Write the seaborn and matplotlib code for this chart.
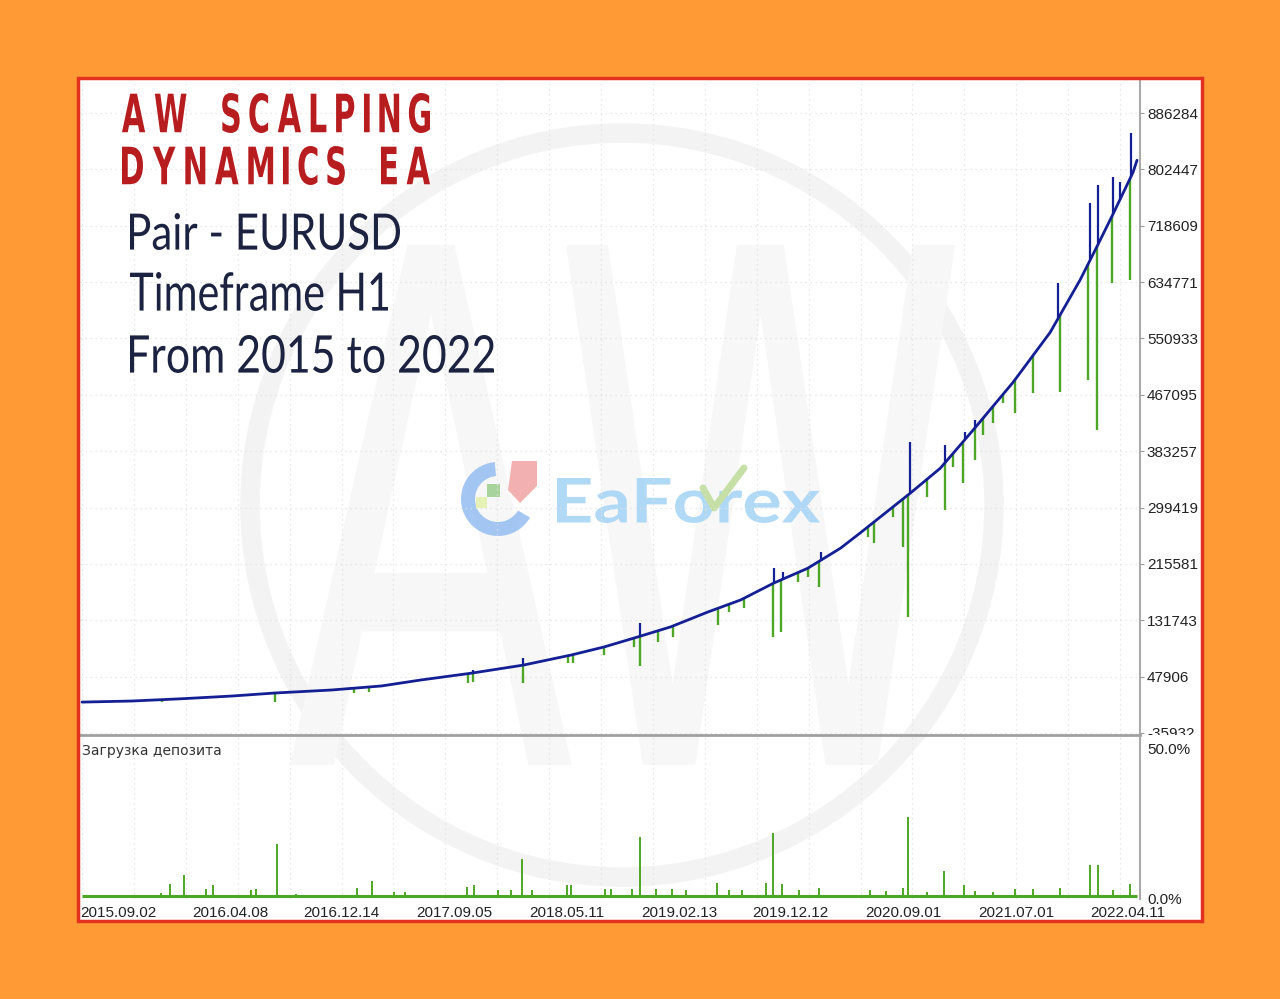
import numpy as np
import seaborn as sns
import matplotlib.pyplot as plt
from matplotlib.font_manager import FontProperties
from matplotlib.patches import Rectangle, Circle, PathPatch, Wedge, Polygon
from matplotlib.lines import Line2D
from matplotlib.path import Path
from matplotlib.textpath import TextPath
from matplotlib.ticker import MultipleLocator
from matplotlib.transforms import Affine2D, Bbox, TransformedBbox, IdentityTransform

# balance curve (trade number -> balance)
trade_idx = [0, 50, 100, 150, 193, 250, 300, 340, 390, 442, 490, 523, 557, 590, 627,
             660, 693, 727, 760, 780, 830, 860, 893, 933, 970, 1000, 1017, 1033, 1053, 1057]
balance = [10000, 11600, 15000, 19000, 23500, 28000, 34000, 43000, 53000, 65000, 80000,
           92000, 107000, 122000, 144000, 162000, 187000, 209000, 239000, 262000, 321000,
           358000, 415000, 486000, 560000, 638000, 688000, 736000, 798000, 816000]

# equity drawdowns (green spikes down)
dip_idx = [80, 193, 273, 288, 387, 392, 442, 487, 492, 523, 553, 559, 577, 592, 637, 648,
           663, 692, 700, 717, 727, 738, 787, 793, 813, 823, 828, 847, 865, 873, 883, 895,
           903, 913, 923, 935, 953, 980, 1008, 1017, 1032, 1050]
dip_low = [9500, 10100, 23500, 25000, 38400, 39900, 38400, 68200, 68200, 80000, 92000,
           63700, 99400, 106800, 124700, 144000, 150000, 106800, 114300, 188600, 196100,
           181200, 255600, 246700, 285300, 240700, 136600, 315100, 295700, 359700, 335900,
           370100, 407300, 425200, 454900, 440000, 469800, 471300, 489100, 414700, 633400,
           637900]

# blue spikes up
peak_idx = [392, 442, 559, 693, 702, 740, 830, 865, 885, 895, 978, 1010, 1018, 1033, 1040, 1051]
peak_high = [57700, 75600, 127700, 209500, 203600, 233300, 396900, 392400, 411800, 429600,
             633400, 752400, 779200, 791100, 783600, 856500]

# deposit load, %
load_idx = [24, 41, 79, 88, 102, 124, 131, 169, 174, 195, 214, 276, 291, 313, 324, 386, 393,
            417, 430, 441, 451, 486, 490, 524, 530, 551, 559, 575, 591, 605, 636, 648, 661,
            685, 692, 701, 718, 738, 789, 806, 823, 828, 847, 864, 884, 895, 913, 935, 953,
            980, 1010, 1018, 1033, 1050]
load_pct = [1, 1, 1.7, 4.7, 7.7, 3, 4.3, 2.7, 3, 18, 1.3, 3.3, 5.7, 2, 2, 3.7, 4.3, 2.7, 2.7,
            13, 2.7, 4.3, 4.3, 3, 3, 3, 20.3, 3, 3, 2.7, 5, 2.7, 2.7, 5, 21.7, 4.7, 2.7, 3.3,
            2.7, 2.3, 3.3, 27, 2, 9, 4.3, 2.3, 2, 3, 3, 3.3, 11, 11, 2.7, 4.7]
load_base = 0.7

date_ticks = [-2, 110, 222, 335, 448, 560, 672, 785, 898, 1010]
date_labels = ['2015.09.02', '2016.04.08', '2016.12.14', '2017.09.05', '2018.05.11',
               '2019.02.13', '2019.12.12', '2020.09.01', '2021.07.01', '2022.04.11']
value_ticks = [886284, 802447, 718609, 634771, 550933, 467095, 383257, 299419, 215581,
               131743, 47906, -35932]
load_ticks = [0, 50]
load_labels = ['0.0%', '50.0%']

W, H = 1280, 999
BLUE = '#141f94'
GREEN = '#4ea626'
GRID = '#e0e0e0'

sns.set_style('white')
plt.rcParams['font.family'] = ['Liberation Sans', 'DejaVu Sans']

fig = plt.figure(figsize=(W / 100, H / 100), dpi=100, facecolor='#ff9a35')
px = IdentityTransform()


def glyph_row(s, fp, gap, space):
    parts, cx = [], 0.0
    for ch in s:
        if ch == ' ':
            cx += space
            continue
        p = TextPath((0, 0), ch, size=100, prop=fp)
        e = p.get_extents()
        parts.append(p.transformed(Affine2D().translate(cx - e.x0, 0)))
        cx += e.width + gap
    return Path.make_compound_path(*parts)


def fit_path(path, x0, top, x1, bottom, color, z, alpha=1.0):
    e = path.get_extents()
    tr = (Affine2D().translate(-e.x0, -e.y0)
          .scale((x1 - x0) / e.width, (bottom - top) / e.height)
          .translate(x0, H - bottom))
    fig.add_artist(PathPatch(path, transform=tr, fc=color, ec='none', lw=0,
                             alpha=alpha, zorder=z))


# white panel + watermarks
fig.add_artist(Rectangle((78, H - 921), 1124, 843, transform=px, fc='white', ec='none', zorder=-3))
fig.add_artist(Circle((622, H - 505), 372, transform=px, fill=False, ec='#f3f3f3', lw=14, zorder=-2))
aw = TextPath((0, 0), 'AW', size=100, prop=FontProperties(family='DejaVu Sans'))
fit_path(aw, 290, 245, 955, 765, '#f7f7f7', -2)

ea = TextPath((0, 0), 'EaForex', size=100, prop=FontProperties(family='Lato', weight='bold'))
fit_path(ea, 557, 478, 820, 523, '#a8d5f6', -1, alpha=0.9)
fig.add_artist(Line2D([703, 714, 744], [H - 488, H - 508, H - 468], transform=px,
                      color='#c6dfa6', lw=5, solid_capstyle='round', zorder=-0.9))
fig.add_artist(Wedge((498, H - 499), 37, 95, 330, width=14, transform=px,
                     fc='#93bdf0', ec='none', alpha=0.85, zorder=-1))
fig.add_artist(Polygon([(512, H - 461), (537, H - 461), (537, H - 486), (520, H - 503), (508, H - 490)],
                       transform=px, fc='#f2a3a3', ec='none', alpha=0.85, zorder=-1))
fig.add_artist(Rectangle((487, H - 497), 13, 13, transform=px, fc='#a9d39c', ec='none', zorder=-1))
fig.add_artist(Rectangle((476, H - 508), 11, 11, transform=px, fc='#e6f1b6', ec='none', zorder=-1))

# main equity pane
ax = fig.add_axes([80 / W, 1 - 735 / H, 1060 / W, 655 / H])
ax2 = fig.add_axes([80 / W, 1 - 899 / H, 1060 / W, 162 / H], sharex=ax)
for a in (ax, ax2):
    a.set_facecolor('none')
    for s in ('left', 'top', 'bottom'):
        a.spines[s].set_visible(False)
    a.spines['right'].set_color('#a9a9a9')
    a.spines['right'].set_linewidth(1.5)
    a.xaxis.set_minor_locator(MultipleLocator(52))
    a.grid(which='minor', axis='x', ls=(0, (1, 3)), color=GRID, lw=0.9)
    a.tick_params(which='minor', length=0)
ax.spines['bottom'].set_visible(True)
ax.spines['bottom'].set_color('#a0a0a0')
ax.spines['bottom'].set_linewidth(2)

bal_at_dip = np.interp(dip_idx, trade_idx, balance)
bal_at_peak = np.interp(peak_idx, trade_idx, balance)
ax.vlines(dip_idx, dip_low, bal_at_dip, color=GREEN, lw=1.7, zorder=2)
ax.vlines(peak_idx, bal_at_peak, peak_high, color=BLUE, lw=1.6, zorder=3)
sns.lineplot(x=trade_idx, y=balance, ax=ax, color=BLUE, lw=2.0, zorder=4)

ax.set_xlim(0, 1060)
ax.set_ylim(-38941, 935372)
ax.set_yticks(value_ticks)
ax.set_yticklabels([str(v) for v in value_ticks])
ax.grid(which='major', axis='y', ls=(0, (1, 3)), color=GRID, lw=0.9)
ax.yaxis.tick_right()
ax.tick_params(axis='y', length=3, color='#999999', pad=2, labelsize=11, labelcolor='#222222')
ax.tick_params(axis='x', which='both', bottom=False, labelbottom=False)
ax.set_xlabel('')
ax.set_ylabel('')
clip = TransformedBbox(Bbox([[0.0, 1 - 735 / H], [1.0, 1.0]]), fig.transFigure)
for lb in ax.get_yticklabels():
    lb.set_clip_on(True)
    lb.set_clip_box(clip)

# deposit load pane
ax2.vlines(load_idx, 0, load_pct, color=GREEN, lw=1.4)
ax2.hlines(load_base, 0, trade_idx[-1], color=GREEN, lw=2.2)
ax2.set_ylim(-0.33, 53.67)
ax2.set_yticks(load_ticks)
ax2.set_yticklabels(load_labels)
ax2.yaxis.tick_right()
ax2.tick_params(axis='y', length=0, pad=5, labelsize=11, labelcolor='#222222')
ax2.set_xticks(date_ticks)
ax2.set_xticklabels(date_labels)
ax2.tick_params(axis='x', length=0, pad=5, labelsize=11, labelcolor='#222222')
for lb in ax2.get_xticklabels():
    lb.set_ha('left')
fig.text(82 / W, 1 - 751 / H, 'Загрузка депозита', fontsize=10, color='#333333',
         va='center', family='DejaVu Sans')

# titles
red_fp = FontProperties(family='DejaVu Sans', weight='bold')
fit_path(glyph_row('AW SCALPING', red_fp, 32, 86), 122, 93, 430, 133, '#b71c1f', 6)
fit_path(glyph_row('DYNAMICS EA', red_fp, 32, 86), 122, 146, 430, 185, '#b71c1f', 6)
navy_fp = FontProperties(family='Lato')
fit_path(TextPath((0, 0), 'Pair - EURUSD', size=100, prop=navy_fp), 130, 213, 400, 250, '#1b2340', 6)
fit_path(TextPath((0, 0), 'Timeframe H1', size=100, prop=navy_fp), 130, 272, 388, 311, '#1b2340', 6)
fit_path(TextPath((0, 0), 'From 2015 to 2022', size=100, prop=navy_fp), 130, 335, 494, 373, '#1b2340', 6)

# red frame on top
fig.add_artist(Rectangle((78, H - 921), 1124, 843, transform=px, fill=False, ec='#e2311f', lw=2.5, zorder=10))

fig.savefig('out.png', dpi=100, facecolor=fig.get_facecolor())
